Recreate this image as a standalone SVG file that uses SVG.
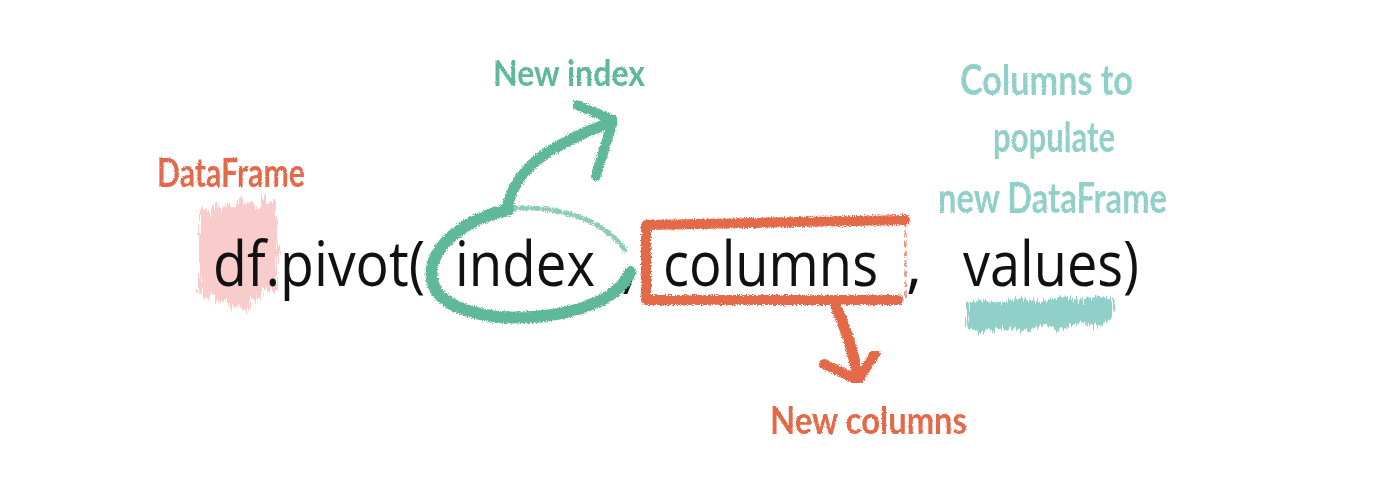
<svg xmlns="http://www.w3.org/2000/svg" width="1400" height="482" viewBox="0 0 1400 482">
  <defs>
    <filter id="rough" x="-10%" y="-10%" width="120%" height="120%">
      <feTurbulence type="fractalNoise" baseFrequency="0.9" numOctaves="2" seed="3" result="n"/>
      <feDisplacementMap in="SourceGraphic" in2="n" scale="5" xChannelSelector="R" yChannelSelector="G"/>
    </filter>
    <filter id="streaky" x="-10%" y="-10%" width="120%" height="120%">
      <feTurbulence type="fractalNoise" baseFrequency="0.6 0.05" numOctaves="2" seed="7" result="n"/>
      <feDisplacementMap in="SourceGraphic" in2="n" scale="14" xChannelSelector="R" yChannelSelector="G"/>
    </filter>
    <filter id="chalk" x="-5%" y="-5%" width="110%" height="110%">
      <feTurbulence type="fractalNoise" baseFrequency="1.2" numOctaves="1" seed="2" result="n"/>
      <feDisplacementMap in="SourceGraphic" in2="n" scale="2.5" xChannelSelector="R" yChannelSelector="G"/>
    </filter>
  </defs>
  <style>
    .code { font-family: "Open Sans", "Noto Sans", sans-serif; font-size: 62px; fill: #111111; }
    .hand { font-family: "Lato", "Open Sans", sans-serif; font-weight: 700; }
    .orange { fill: #e4694a; }
    .green { fill: #5fb897; }
    .teal { fill: #91cfc9; }
    .brush { fill: none; stroke-linecap: round; stroke-linejoin: round; filter: url(#rough); }
  </style>
  <rect width="1400" height="482" fill="#ffffff"/>

  <!-- highlight behind d -->
  <g id="highlight-df">
    <path d="M199 212 L206 206 L210 214 L216 200 L222 210 L228 204 L234 208 L240 196 L246 206 L252 200 L258 208 L264 194 L270 204 L277 196 L277 292 L262 290 L258 302 L250 298 L248 312 L238 304 L232 310 L226 298 L218 304 L212 294 L205 300 L199 290 Z" fill="#f8cccb" filter="url(#streaky)"/>
  </g>

  <!-- values underline -->
  <g id="underline-values">
    <path d="M967 304 L980 300 L1000 303 L1020 298 L1040 302 L1060 297 L1080 300 L1100 296 L1115 300 L1112 318 L1100 326 L1080 322 L1060 330 L1040 326 L1020 331 L1000 328 L980 332 L968 326 Z" fill="#91cfc9" filter="url(#streaky)"/>
  </g>

  <!-- main code text -->
  <g id="node-code">
    <text class="code" x="213" y="286" textLength="212" lengthAdjust="spacingAndGlyphs">df.pivot(</text>
    <text class="code" x="455" y="286" textLength="140" lengthAdjust="spacingAndGlyphs">index</text>
    <text class="code" x="621" y="286">,</text>
    <text class="code" x="663" y="286" textLength="215" lengthAdjust="spacingAndGlyphs">columns</text>
    <text class="code" x="906" y="286">,</text>
    <text class="code" x="963" y="286" textLength="176" lengthAdjust="spacingAndGlyphs">values)</text>
  </g>

  <!-- connectors -->
  <g id="connectors">
    <path class="brush" stroke="#5fb897" stroke-width="12" d="M630 272 C 612 322, 470 334, 437 292 C 418 262, 450 222, 508 210"/>
    <path class="brush" stroke="#5fb897" stroke-width="5" stroke-dasharray="6 5" opacity="0.7" d="M510 209 C 560 204, 608 222, 626 252"/>
    <path class="brush" stroke="#5fb897" stroke-width="11" d="M507 208 C 512 185, 525 165, 555 148 C 575 136, 595 128, 612 122"/>
    <path class="brush" stroke="#5fb897" stroke-width="10" d="M577 105 L613 120 L596 176"/>

    <path class="brush" stroke="#e4694a" stroke-width="10" d="M898 300 L646 300 L646 225 L905 220"/>
    <path class="brush" stroke="#e4694a" stroke-width="3" stroke-dasharray="4 6" opacity="0.7" d="M905 222 L906 300"/>
    <path class="brush" stroke="#e4694a" stroke-width="11" d="M834 302 C 842 320, 852 345, 857 372"/>
    <path class="brush" stroke="#e4694a" stroke-width="10" d="M824 364 L858 380 L875 354"/>
  </g>

  <!-- labels -->
  <g id="label-dataframe" filter="url(#chalk)">
    <text class="hand orange" x="157" y="187" font-size="40" textLength="148" lengthAdjust="spacingAndGlyphs">DataFrame</text>
  </g>
  <g id="label-new-index" filter="url(#chalk)">
    <text class="hand green" x="493" y="86" font-size="36" textLength="152" lengthAdjust="spacingAndGlyphs">New index</text>
  </g>
  <g id="label-new-columns" filter="url(#chalk)">
    <text class="hand orange" x="770" y="434" font-size="38" textLength="197" lengthAdjust="spacingAndGlyphs">New columns</text>
  </g>
  <g id="label-values" filter="url(#chalk)">
    <text class="hand teal" x="960" y="95" font-size="42" textLength="173" lengthAdjust="spacingAndGlyphs">Columns to</text>
    <text class="hand teal" x="993" y="152" font-size="42" textLength="122" lengthAdjust="spacingAndGlyphs">populate</text>
    <text class="hand teal" x="938" y="213" font-size="42" textLength="229" lengthAdjust="spacingAndGlyphs">new DataFrame</text>
  </g>
</svg>
